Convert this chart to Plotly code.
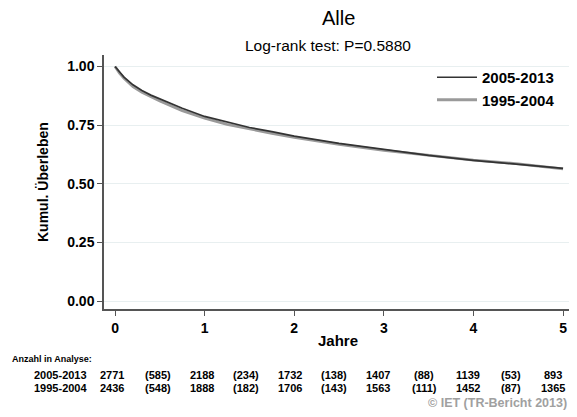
import plotly.graph_objects as go

# ---- data ----
years = [0, 0.05, 0.1, 0.2, 0.3, 0.4, 0.5, 0.75, 1.0, 1.25, 1.5, 1.75, 2.0, 2.5, 3.0, 3.5, 4.0, 4.5, 5.0]
surv_2005_2013 = [1.0, 0.975, 0.955, 0.922, 0.898, 0.878, 0.862, 0.822, 0.787, 0.762, 0.740, 0.722, 0.703, 0.672, 0.645, 0.621, 0.600, 0.584, 0.566]
surv_1995_2004 = [1.0, 0.972, 0.950, 0.914, 0.890, 0.870, 0.853, 0.812, 0.780, 0.753, 0.733, 0.715, 0.698, 0.668, 0.642, 0.622, 0.601, 0.585, 0.563]
series_names = ["2005-2013", "1995-2004"]
risk_2005_2013 = ["2771", "(585)", "2188", "(234)", "1732", "(138)", "1407", "(88)", "1139", "(53)", "893"]
risk_1995_2004 = ["2436", "(548)", "1888", "(182)", "1706", "(143)", "1563", "(111)", "1452", "(87)", "1365"]
x_ticks = [0, 1, 2, 3, 4, 5]
y_ticks = [0.0, 0.25, 0.5, 0.75, 1.0]

# page body has an 8px default margin: build the figure 8px smaller and offset coordinates
OFF = 8
W, H = 577 - OFF, 417 - OFF
# target plot area in window pixels: left 104, right 572, top 55, bottom 309
ML, MR, MT, MB = 104 - OFF, 577 - 572, 55 - OFF, 417 - 309
PW, PH = W - ML - MR, H - MT - MB
FONT = "Liberation Sans, Arial, sans-serif"


def px_x(p):
    return (p - OFF - ML) / PW


def px_y(p):
    return (H - MB - (p - OFF)) / PH


fig = go.Figure()
fig.add_trace(go.Scatter(x=years, y=surv_1995_2004, mode="lines", name=series_names[1],
                         line=dict(color="#9a9a9a", width=2.8)))
fig.add_trace(go.Scatter(x=years, y=surv_2005_2013, mode="lines", name=series_names[0],
                         line=dict(color="#333333", width=1.7)))

ann = []
ann.append(dict(text="Alle", x=px_x(338), y=px_y(18), xref="paper", yref="paper",
                showarrow=False, font=dict(size=20, color="black", family=FONT), yanchor="middle"))
ann.append(dict(text="Log-rank test: P=0.5880", x=px_x(328), y=px_y(45), xref="paper", yref="paper",
                showarrow=False, font=dict(size=15.5, color="black", family=FONT), yanchor="middle"))
ann.append(dict(text="Anzahl in Analyse:", x=px_x(10), y=px_y(359), xref="paper", yref="paper",
                xanchor="left", yanchor="middle", showarrow=False,
                font=dict(size=9, color="black", family=FONT, weight="bold")))
col_px = [112, 158, 202, 246, 290, 334, 378, 424, 468, 511, 553]
for row_y, label, vals in [(375, series_names[0], risk_2005_2013), (388, series_names[1], risk_1995_2004)]:
    ann.append(dict(text=label, x=px_x(89), y=px_y(row_y), xref="paper", yref="paper",
                    xanchor="right", yanchor="middle", showarrow=False,
                    font=dict(size=11, color="black", family=FONT, weight="bold")))
    for cx, v in zip(col_px, vals):
        ann.append(dict(text=v, x=px_x(cx), y=px_y(row_y), xref="paper", yref="paper",
                        xanchor="center", yanchor="middle", showarrow=False,
                        font=dict(size=11, color="black", family=FONT, weight="bold")))
ann.append(dict(text="© IET (TR-Bericht 2013)", x=px_x(569), y=px_y(403), xref="paper", yref="paper",
                xanchor="right", yanchor="middle", showarrow=False,
                font=dict(size=12.5, color="#a0a0a0", family=FONT, weight="bold")))
ann.append(dict(text="Jahre", x=px_x(338), y=px_y(340), xref="paper", yref="paper",
                xanchor="center", yanchor="middle", showarrow=False,
                font=dict(size=15, color="black", family=FONT, weight="bold")))
ann.append(dict(text="Kumul. Überleben", x=px_x(43), y=px_y(182), xref="paper", yref="paper",
                xanchor="center", yanchor="middle", showarrow=False, textangle=-90,
                font=dict(size=14, color="black", family=FONT, weight="bold")))

fig.update_layout(
    width=W, height=H,
    margin=dict(l=ML, r=MR, t=MT, b=MB, autoexpand=False),
    paper_bgcolor="white", plot_bgcolor="white",
    font=dict(family=FONT, color="black"),
    showlegend=True,
    legend=dict(x=px_x(432), y=px_y(61),
                xref="paper", yref="paper", xanchor="left", yanchor="top",
                bgcolor="rgba(0,0,0,0)", traceorder="reversed",
                font=dict(size=15, family=FONT, color="black", weight="bold"),
                itemwidth=40, tracegroupgap=0),
    annotations=ann,
    xaxis=dict(range=[-0.123, 5.1], tickvals=x_ticks, ticktext=[str(t) for t in x_ticks],
               showgrid=False, zeroline=False, showline=True, linecolor="#555555", linewidth=1.5,
               ticks="outside", ticklen=5, tickcolor="#555555", automargin=False,
               tickfont=dict(size=14, family=FONT, weight="bold")),
    yaxis=dict(range=[-0.034, 1.049], tickvals=y_ticks, ticktext=["0.00", "0.25", "0.50", "0.75", "1.00"],
               showgrid=True, gridcolor="#e8eff0", gridwidth=1, zeroline=False,
               showline=True, linecolor="#555555", linewidth=1.5, automargin=False,
               ticks="outside", ticklen=5, tickcolor="#555555",
               tickfont=dict(size=14, family=FONT, weight="bold")),
)

fig.write_html("out.html")
